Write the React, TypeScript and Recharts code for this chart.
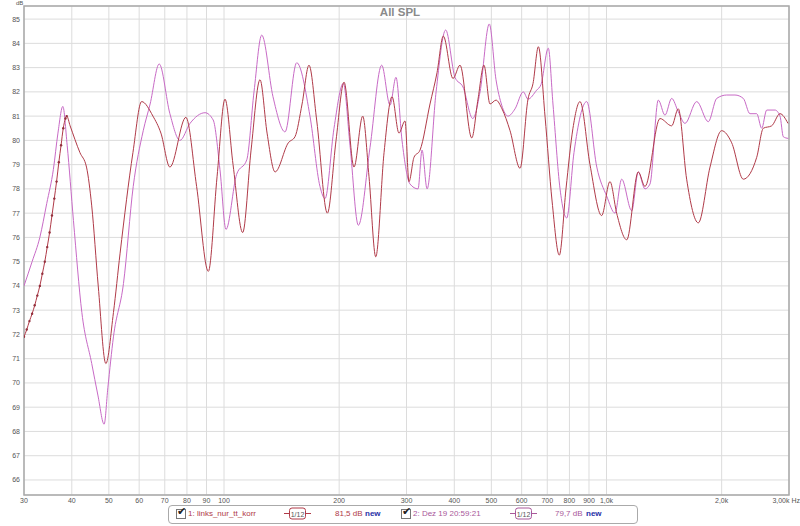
import { CartesianGrid, Line, LineChart, ReferenceArea, XAxis, YAxis } from 'recharts';

// #region data
const redFreqs = [
  30, 30.5, 31, 31.5, 32, 32.5, 33, 33.5, 34, 34.5, 35, 35.5, 36, 36.5, 37, 37.5, 38, 38.5, 38.8,
  39.6, 42, 43.7, 45.1, 46.9, 49.1, 51.4, 53.5, 57.8, 60.9, 65.2, 68.4, 72.2, 79.5, 84.8, 91,
  95.9, 100.6, 105.6, 111.9, 117.7, 124.2, 129.6, 136, 147.3, 153.3, 160, 166.8, 174.8, 186.3,
  196.3, 206, 218.7, 230.5, 239.4, 249.3, 262.1, 275, 286.7, 297.3, 304.5, 313.8, 325.5, 345.6,
  360.6, 374.4, 396.9, 414, 444.3, 461.4, 478.2, 495.9, 514.2, 533.1, 559.5, 594.3, 623.4, 642.6,
  663.6, 690.6, 720.6, 752.7, 783.6, 817.2, 852.6, 905.4, 971.1, 1021, 1063, 1129.5, 1210.8,
  1260.6, 1380, 1480.5, 1540.5, 1620, 1737.9, 1864.8, 2000, 2124.6, 2278.5, 2469.9, 2570, 2703,
  2842, 2982,
];
const redLevels = [
  71.9, 72.2, 72.55, 72.85, 73.2, 73.6, 74.0, 74.5, 75.0, 75.6, 76.2, 76.9, 77.6, 78.3, 79.1, 79.8, 80.5, 80.9, 81.0,
  80.6, 79.5, 78.9, 77.3, 74.0, 70.8, 72.9, 75.35, 79.5, 81.6, 81.0, 80.3, 78.9, 80.95, 78.1, 74.6,
  78.5, 81.7, 79.0, 76.2, 79.6, 82.5, 80.3, 78.7, 79.9, 80.15, 81.5, 83.1, 80.8, 77.0,
  80.0, 82.4, 78.9, 81.0, 78.5, 75.2, 79.5, 81.8, 80.3, 80.8, 78.3, 79.3, 79.6, 81.5,
  82.8, 84.3, 82.55, 83.1, 80.1, 81.7, 83.1, 81.5, 81.66, 81.3, 80.4, 78.85, 81.7, 82.35,
  83.86, 81.0, 77.5, 75.27, 78.0, 80.5, 81.6, 79.0, 76.9, 78.3, 77.0, 75.9, 78.7,
  78.1, 80.9, 80.6, 81.3, 78.4, 76.6, 78.9, 80.4, 79.9, 78.4, 79.3, 80.5, 80.6,
  81.1, 80.7,
];

const pinkFreqs = [
  30, 31.5, 33, 34.4, 35.8, 36.8, 37.9, 38.9, 40.4, 42.5, 45.1, 46.8, 48.6, 49.7, 51.4, 54.6,
  57.9, 61.5, 64.1, 67.7, 72.2, 76.7, 81.5, 89.2, 93.7, 97.6, 101.2, 107.9, 114.7, 119.8, 125.5,
  134.3, 144.4, 154.9, 167.8, 178.2, 183.7, 193.9, 205.1, 213.5, 224.5, 240.8, 258.4, 271.7,
  281.6, 292, 306.4, 321.6, 329.4, 339.6, 358.5, 379.8, 401.7, 421.5, 447, 467.1, 493.8, 514.2,
  532.2, 552.6, 576.6, 606, 623.4, 656.7, 674.1, 704.4, 724.5, 756, 786.9, 822.3, 887.7, 943.2,
  1001.4, 1052.4, 1095.6, 1164, 1210.8, 1260.6, 1299.3, 1365.9, 1422, 1480.5, 1540.5, 1603.8,
  1721.4, 1845.6, 1941.3, 2061.6, 2167.2, 2278.5, 2372, 2470, 2545.5, 2623.5, 2757.6, 2842,
  2899, 2987,
];
const pinkLevels = [
  74.0, 75.0, 76.0, 77.4, 78.8, 80.3, 81.4, 79.8, 76.7, 72.9, 70.8, 69.5, 68.3, 69.8, 71.9, 74.1,
  78.1, 80.4, 81.5, 83.15, 81.1, 80.0, 80.7, 81.14, 80.84, 78.8, 76.33, 78.6, 79.2, 82.0, 84.34,
  81.8, 80.35, 83.2, 81.0, 78.1, 77.6, 80.5, 82.35, 79.8, 76.5, 79.7, 83.1, 81.45,
  82.6, 80.0, 78.2, 78.0, 79.6, 78.0, 82.0, 84.55, 82.6, 82.2, 80.9, 82.0, 84.8, 82.5,
  81.45, 81.0, 81.3, 82.0, 81.7, 82.07, 82.3, 83.8, 81.5, 78.0, 76.8, 79.5, 81.6, 78.9,
  77.7, 77.0, 78.4, 77.1, 78.7, 78.0, 78.2, 81.66, 81.04, 81.73, 81.18, 80.7,
  81.6, 80.77, 81.73, 81.87, 81.87, 81.73, 81.1, 81.1, 80.5, 81.25, 81.25, 81.0,
  80.15, 80.08,
];

const xTicks = [30, 40, 50, 60, 70, 80, 90, 100, 200, 300, 400, 500, 600, 700, 800, 900, 1000, 2000, 3000];
const xTickLabels = ['30', '40', '50', '60', '70', '80', '90', '100', '200', '300', '400', '500', '600', '700', '800', '900', '1,0k', '2,0k', '3,00k Hz'];
const yTicks = [66, 67, 68, 69, 70, 71, 72, 73, 74, 75, 76, 77, 78, 79, 80, 81, 82, 83, 84, 85];

const legendNames = ['1: links_nur_tt_korr', '2: Dez 19 20:59:21'];
const legendLevels = ['81,5 dB', '79,7 dB'];
// #endregion

const RED = '#b03a48';
const PINK = '#c86ac6';
const FONT = '"Liberation Sans", "DejaVu Sans", sans-serif';

const redData = redFreqs.map((f, i) => ({ f, db: redLevels[i] }));
const pinkData = pinkFreqs.map((f, i) => ({ f, db: pinkLevels[i] }));

const XTick = ({ x, y, payload }: any) => {
  const i = xTicks.indexOf(payload.value);
  const last = i === xTicks.length - 1;
  return (
    <text x={last ? x + 11 : x} y={y + 7.5} textAnchor={last ? 'end' : 'middle'} fontSize={7} fill="#555" fontFamily={FONT}>
      {xTickLabels[i]}
    </text>
  );
};

const YTick = ({ x, y, payload }: any) => (
  <text x={x - 4} y={y + 2.5} textAnchor="end" fontSize={7} fill="#555" fontFamily={FONT}>
    {payload.value}
  </text>
);

const redDot = (props: any) => {
  const { cx, cy, payload, index } = props;
  if (payload.f > 38.9) return <g key={index} />;
  return <circle key={index} cx={cx} cy={cy} r={1.2} fill="#93303c" />;
};

const SmoothIcon = ({ color }: { color: string }) => (
  <svg width={27} height={13} style={{ display: 'block' }}>
    <line x1={0} y1={6.5} x2={5} y2={6.5} stroke={color} />
    <line x1={22} y1={6.5} x2={27} y2={6.5} stroke={color} />
    <rect x={5.5} y={1} width={16} height={11} rx={2.5} fill="#fff" stroke={color} />
    <text x={13.5} y={9.5} textAnchor="middle" fontSize={7} fill="#555" fontFamily={FONT}>1/12</text>
  </svg>
);

const CheckBox = () => (
  <div style={{ width: 8, height: 8, border: '1px solid #777', background: '#fff', position: 'relative' }}>
    <span style={{ position: 'absolute', left: 0, top: -5, fontSize: 11, color: '#222' }}>✔</span>
  </div>
);

const LegendBar = () => {
  const colors = [RED, '#a9589a'];
  const spots = [
    { cb: 176, name: 188, icon: 284, level: 335, neu: 365 },
    { cb: 401, name: 413, icon: 510, level: 555, neu: 586 },
  ];
  const abs = (left: number, top: number): React.CSSProperties => ({ position: 'absolute', left, top, whiteSpace: 'nowrap' });
  return (
    <>
      <div style={{ position: 'absolute', left: 168, top: 505, width: 468, height: 17, border: '1px solid #aaa', borderRadius: 4, background: '#fff' }} />
      {spots.map((s, i) => (
        <div key={i} style={{ fontFamily: FONT, fontSize: 8 }}>
          <div style={abs(s.cb, 509)}><CheckBox /></div>
          <div style={{ ...abs(s.name, 509), color: colors[i] }}>{legendNames[i]}</div>
          <div style={abs(s.icon, 507)}><SmoothIcon color={colors[i]} /></div>
          <div style={{ ...abs(s.level, 509), color: colors[i] }}>{legendLevels[i]}</div>
          <div style={{ ...abs(s.neu, 509), color: '#1f2fa6', fontWeight: 'bold' }}>new</div>
        </div>
      ))}
    </>
  );
};

export default function App() {
  return (
    <div style={{ position: 'absolute', left: 0, top: 0, width: 800, height: 526, background: '#fff' }}>
      <LineChart width={800} height={526} margin={{ top: 6, right: 11, bottom: 19, left: 0 }}>
        <CartesianGrid stroke="#dcdcdc" strokeWidth={1} />
        <XAxis
          dataKey="f"
          type="number"
          scale="log"
          domain={[30, 3000]}
          ticks={xTicks}
          allowDataOverflow
          axisLine={false}
          tickLine={false}
          tickSize={0}
          tickMargin={0}
          height={12}
          tick={<XTick />}
          interval={0}
        />
        <YAxis
          type="number"
          domain={[65.38, 85.54]}
          ticks={yTicks}
          allowDataOverflow
          axisLine={false}
          tickLine={false}
          tickSize={0}
          tickMargin={0}
          width={24}
          tick={<YTick />}
          interval={0}
        />
        <ReferenceArea x1={30} x2={3000} y1={65.38} y2={85.54} fill="none" stroke="#a9a9a9" strokeWidth={1.5} />
        <Line data={pinkData} dataKey="db" type="monotone" stroke={PINK} strokeWidth={1} dot={false} isAnimationActive={false} />
        <Line data={redData} dataKey="db" type="monotone" stroke={RED} strokeWidth={1} dot={redDot} isAnimationActive={false} />
      </LineChart>
      <div style={{ position: 'absolute', left: 16, top: 0, fontSize: 6, lineHeight: '6px', color: '#555', fontFamily: FONT }}>dB</div>
      <div style={{ position: 'absolute', left: 0, width: 800, top: 6, textAlign: 'center', fontSize: 11.5, fontWeight: 'bold', color: '#8a8a8a', fontFamily: FONT }}>
        All SPL
      </div>
      <LegendBar />
    </div>
  );
}
